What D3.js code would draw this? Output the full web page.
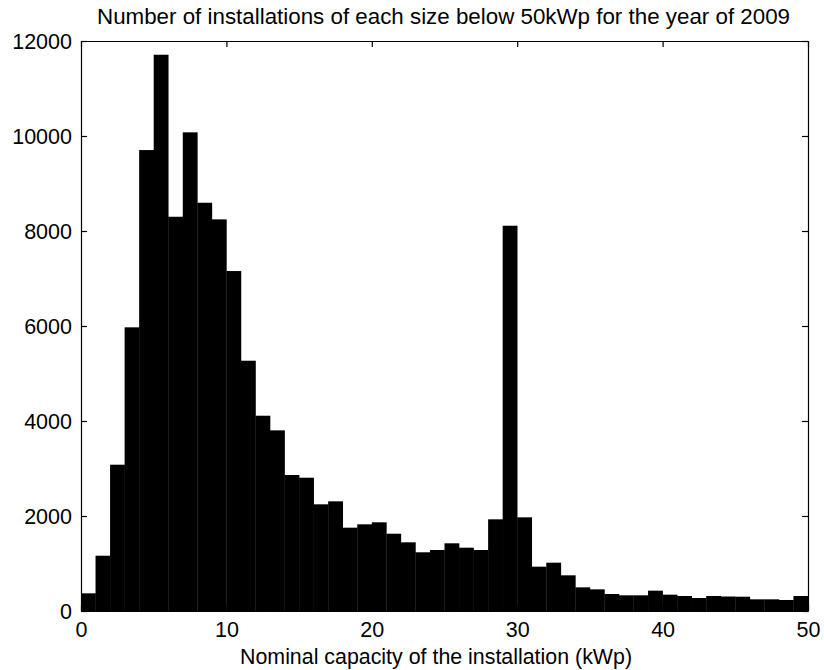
<!DOCTYPE html>
<html lang="en">
<head>
    <meta charset="UTF-8">
    <script src="https://d3js.org/d3.v7.min.js"></script>
    <title>Installations below 50kWp, 2009</title>
    <style>
        body { margin: 0; background: #fff; }
        svg text { font-family: "Liberation Sans", Arial, sans-serif; fill: #000; }
    </style>
</head>
<body>
<script>
    // one bin per kWp, 0-1, 1-2, ... 49-50
    const binStarts = d3.range(0, 50);
    const counts = [
        372, 1164, 3080, 5972, 9704, 11711, 8300, 10077, 8595, 8245,
        7157, 5269, 4111, 3803, 2863, 2806, 2246, 2309, 1754, 1825,
        1867, 1627, 1446, 1236, 1284, 1425, 1333, 1284, 1930, 8111,
        1972, 933, 1017, 751, 498, 456, 358, 330, 330, 428,
        344, 316, 274, 316, 305, 301, 246, 246, 232, 316
    ];
    const xTicks = [0, 10, 20, 30, 40, 50];
    const yTicks = [0, 2000, 4000, 6000, 8000, 10000, 12000];

    const width = 824, height = 670;
    const margin = {top: 41, right: 16, bottom: 59, left: 81};

    const svg = d3.select("body").append("svg")
        .attr("width", width)
        .attr("height", height);

    const x = d3.scaleLinear().domain([0, 50]).range([margin.left, width - margin.right]);
    const y = d3.scaleLinear().domain([0, 12000]).range([height - margin.bottom, margin.top]);

    // bars
    svg.append("g")
        .selectAll("rect")
        .data(binStarts)
        .join("rect")
        .attr("x", d => x(d))
        .attr("width", d => x(d + 1) - x(d) + 0.3)
        .attr("y", (d, i) => y(counts[i]))
        .attr("height", (d, i) => y(0) - y(counts[i]))
        .attr("fill", "#000");

    // axes, ticks pointing inward on all four sides (box)
    const tickLen = 6;
    const fs = "21.5px";
    const fmt = d3.format("d");

    const xb = svg.append("g")
        .attr("transform", `translate(0,${y(0)})`)
        .call(d3.axisBottom(x).tickValues(xTicks).tickFormat(fmt).tickSizeInner(-tickLen).tickSizeOuter(0).tickPadding(11));
    const xt = svg.append("g")
        .attr("transform", `translate(0,${y(12000)})`)
        .call(d3.axisTop(x).tickValues(xTicks).tickSizeInner(-tickLen).tickSizeOuter(0).tickFormat(""));
    const yl = svg.append("g")
        .attr("transform", `translate(${x(0)},0)`)
        .call(d3.axisLeft(y).tickValues(yTicks).tickFormat(fmt).tickSizeInner(-tickLen).tickSizeOuter(0).tickPadding(9));
    const yr = svg.append("g")
        .attr("transform", `translate(${x(50)},0)`)
        .call(d3.axisRight(y).tickValues(yTicks).tickSizeInner(-tickLen).tickSizeOuter(0).tickFormat(""));

    [xb, xt, yl, yr].forEach(g => {
        g.selectAll("path, line").attr("stroke", "#000").attr("stroke-width", 1.2);
        g.selectAll("text").attr("font-size", fs).attr("font-family", "Liberation Sans, Arial, sans-serif");
    });
    yl.selectAll("text").attr("dy", "0.33em");

    // title and x label
    svg.append("text")
        .attr("x", 443.5)
        .attr("y", 24)
        .attr("text-anchor", "middle")
        .attr("font-size", "21.5px")
        .attr("textLength", 693)
        .attr("lengthAdjust", "spacingAndGlyphs")
        .text("Number of installations of each size below 50kWp for the year of 2009");

    svg.append("text")
        .attr("x", 436)
        .attr("y", 664)
        .attr("text-anchor", "middle")
        .attr("font-size", "21.5px")
        .attr("textLength", 392)
        .attr("lengthAdjust", "spacingAndGlyphs")
        .text("Nominal capacity of the installation (kWp)");
</script>
</body>
</html>
